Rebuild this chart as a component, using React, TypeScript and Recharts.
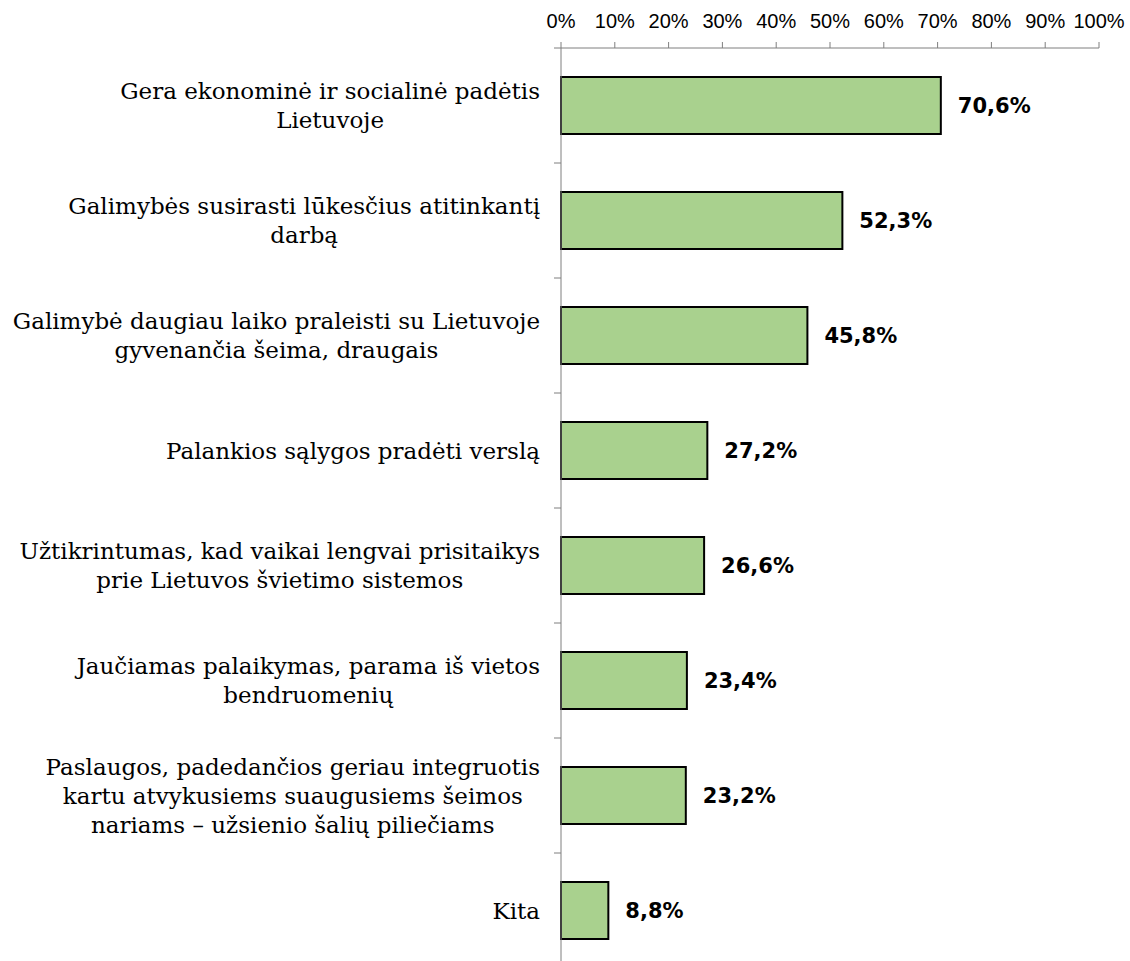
import { BarChart, Bar, XAxis, YAxis, LabelList } from 'recharts';

// Reasons for returning to Lithuania, share of respondents
const categories = [
  ['Gera ekonominė ir socialinė padėtis', 'Lietuvoje'],
  ['Galimybės susirasti lūkesčius atitinkantį', 'darbą'],
  ['Galimybė daugiau laiko praleisti su Lietuvoje', 'gyvenančia šeima, draugais'],
  ['Palankios sąlygos pradėti verslą'],
  ['Užtikrintumas, kad vaikai lengvai prisitaikys', 'prie Lietuvos švietimo sistemos'],
  ['Jaučiamas palaikymas, parama iš vietos', 'bendruomenių'],
  ['Paslaugos, padedančios geriau integruotis', 'kartu atvykusiems suaugusiems šeimos', 'nariams – užsienio šalių piliečiams'],
  ['Kita'],
];
const values = [70.6, 52.3, 45.8, 27.2, 26.6, 23.4, 23.2, 8.8];
const xTicks = [0, 10, 20, 30, 40, 50, 60, 70, 80, 90, 100];

const data = categories.map((lines, i) => ({ name: lines.join('\n'), value: values[i] }));

const LABEL_SIZE = 23;
const LABEL_FONT = `${LABEL_SIZE}px "DejaVu Serif"`;
const LINE_H = 29;
const AXIS_GREY = '#7f7f7f';

let ctx: CanvasRenderingContext2D | null = null;
function textWidth(s: string) {
  if (!ctx) ctx = document.createElement('canvas').getContext('2d');
  if (!ctx) return s.length * 11;
  ctx.font = LABEL_FONT;
  return ctx.measureText(s).width;
}

// category label, centred lines right-aligned as a block; tick marks sit on the band edges
function CategoryTick(props: any) {
  const { x, y, payload, index, visibleTicksCount, height } = props;
  const band = height && visibleTicksCount ? height / visibleTicksCount : 115;
  const axisX = x + 21;
  const lines: string[] = String(payload.value).split('\n');
  const maxW = Math.max(...lines.map(textWidth));
  const cx = x - maxW / 2;
  const top = y - ((lines.length - 1) * LINE_H) / 2;
  return (
    <g>
      <line x1={axisX - 7} x2={axisX} y1={y - band / 2} y2={y - band / 2} stroke={AXIS_GREY} />
      {index === visibleTicksCount - 1 && (
        <line x1={axisX - 7} x2={axisX} y1={y + band / 2} y2={y + band / 2} stroke={AXIS_GREY} />
      )}
      {lines.map((l, i) => (
        <text
          key={i}
          x={cx}
          y={top + i * LINE_H}
          textAnchor="middle"
          dominantBaseline="central"
          fontFamily="DejaVu Serif"
          fontSize={LABEL_SIZE}
          fill="#000"
        >
          {l}
        </text>
      ))}
    </g>
  );
}

const fmt = (v: any) => Number(v).toFixed(1).replace('.', ',') + '%';

export default function App() {
  return (
    <div style={{ position: 'absolute', left: 0, top: 0, background: '#fff' }}>
      <BarChart
        width={1130}
        height={980}
        data={data}
        layout="vertical"
        margin={{ top: 0, right: 31, left: 0, bottom: 12 }}
      >
        <XAxis
          type="number"
          orientation="top"
          domain={[0, 100]}
          ticks={xTicks}
          interval={0}
          height={48}
          tickSize={6}
          tickMargin={14}
          tickFormatter={(v) => `${v}%`}
          stroke={AXIS_GREY}
          tick={{ fill: '#000', fontFamily: 'Liberation Sans', fontSize: 20 }}
        />
        <YAxis
          type="category"
          dataKey="name"
          width={561}
          interval={0}
          axisLine={{ stroke: AXIS_GREY }}
          tickLine={false}
          tickSize={0}
          tickMargin={21}
          tick={<CategoryTick />}
        />
        <Bar
          dataKey="value"
          fill="#A9D18E"
          stroke="#000"
          strokeWidth={2}
          barSize={57}
          isAnimationActive={false}
        >
          <LabelList
            dataKey="value"
            position="right"
            offset={17}
            formatter={fmt}
            fill="#000"
            fontFamily="DejaVu Sans"
            fontWeight="bold"
            fontSize={21}
          />
        </Bar>
      </BarChart>
    </div>
  );
}
